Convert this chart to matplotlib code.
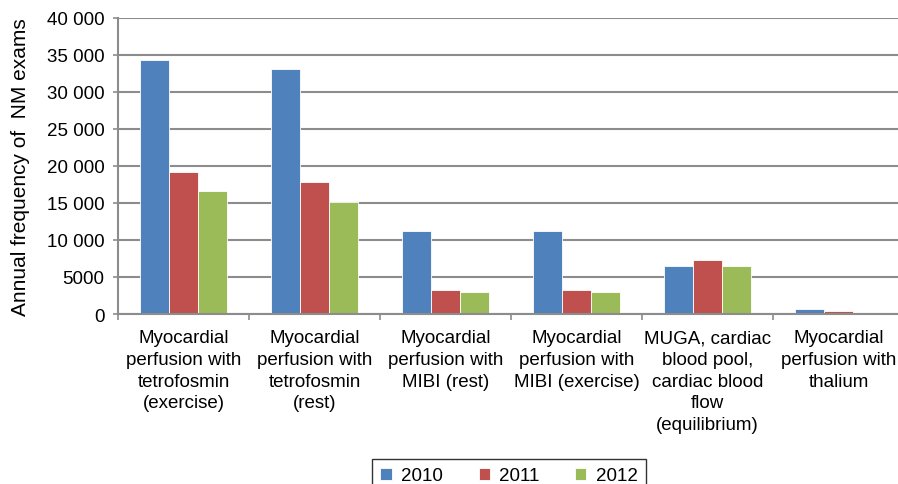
import matplotlib
matplotlib.use("Agg")
import matplotlib.pyplot as plt
import numpy as np
from matplotlib.ticker import FuncFormatter, FixedLocator

categories = [
    "Myocardial\nperfusion with\ntetrofosmin\n(exercise)",
    "Myocardial\nperfusion with\ntetrofosmin\n(rest)",
    "Myocardial\nperfusion with\nMIBI (rest)",
    "Myocardial\nperfusion with\nMIBI (exercise)",
    "MUGA, cardiac\nblood pool,\ncardiac blood\nflow\n(equilibrium)",
    "Myocardial\nperfusion with\nthalium",
]
years = ["2010", "2011", "2012"]
v2010 = [34300, 33150, 11170, 11170, 6470, 670]
v2011 = [19150, 17900, 3230, 3230, 7330, 400]
v2012 = [16650, 15100, 3000, 3000, 6470, 130]
colors = ["#4F81BD", "#C0504D", "#9BBB59"]

plt.rcParams['font.family'] = ['Liberation Sans', 'DejaVu Sans']

fig = plt.figure(figsize=(8.98, 4.85), dpi=100)
W, H = 898, 485
ax = fig.add_axes([118 / W, 1 - 315 / H, 786 / W, 296 / H])

x = np.arange(len(categories))
bw = 0.22
for i, (vals, c, lab) in enumerate(zip([v2010, v2011, v2012], colors, years)):
    ax.bar(x + (i - 1) * bw, vals, width=bw, color=c, edgecolor="#ffffff", linewidth=0.6,
           label=lab, zorder=3)

ax.set_xlim(-0.5, len(categories) - 0.5)
ax.set_ylim(0, 40000)
ax.yaxis.set_major_locator(FixedLocator(np.arange(0, 40001, 5000)))

def fmt(v, pos):
    v = int(round(v))
    if v >= 10000:
        return f"{v:,}".replace(",", " ")
    return str(v)

ax.yaxis.set_major_formatter(FuncFormatter(fmt))
ax.grid(axis="y", color="#8c8c8c", linewidth=1.5, zorder=0)
ax.set_axisbelow(True)

for s in ["top", "right"]:
    ax.spines[s].set_visible(False)
ax.spines["left"].set_color("#8c8c8c")
ax.spines["left"].set_linewidth(1.5)
ax.spines["bottom"].set_color("#8c8c8c")
ax.spines["bottom"].set_linewidth(1.5)
ax.spines["bottom"].set_zorder(4)

ax.set_xticks(x)
ax.set_xticklabels(categories, fontsize=13.5, linespacing=1.36)
ax.tick_params(axis="x", length=0, pad=11)
ax.set_xticks(np.arange(-0.5, len(categories), 1.0), minor=True)
ax.tick_params(axis="x", which="minor", length=4.5, width=1.2, color="#8c8c8c", direction="out")
ax.tick_params(axis="y", length=3.6, width=1.2, color="#8c8c8c", labelsize=13.5, pad=6)

ax.set_ylabel("Annual frequency of  NM exams", fontsize=15, labelpad=12)

leg = fig.legend(loc="upper center", bbox_to_anchor=(509 / W, 1 - 460 / H), ncol=3,
                 frameon=True, fancybox=False, edgecolor="black", fontsize=13.5,
                 handlelength=0.6, handleheight=0.6, columnspacing=1.9, handletextpad=0.5,
                 borderpad=0.45, borderaxespad=0)
leg.get_frame().set_linewidth(1.0)

fig.savefig("out.png", dpi=100)
